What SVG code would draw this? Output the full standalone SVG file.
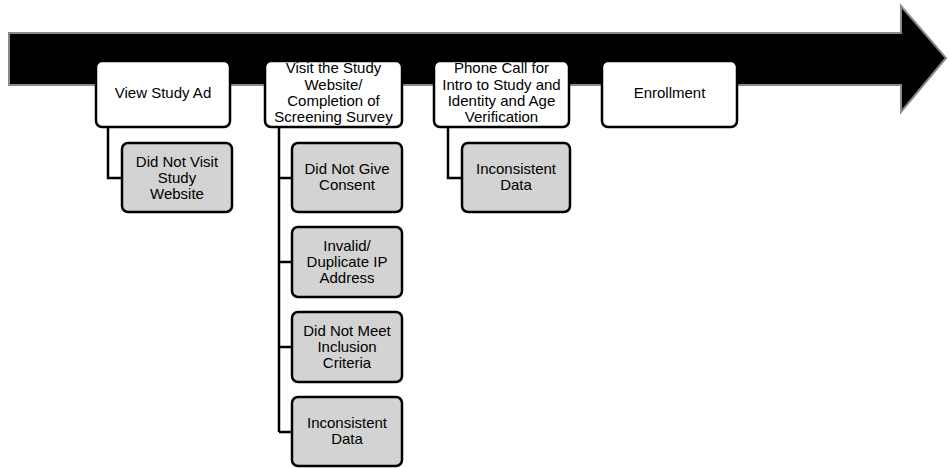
<svg xmlns="http://www.w3.org/2000/svg" width="949" height="468" viewBox="0 0 949 468">
<style>
.main{fill:#ffffff;stroke:#000;stroke-width:2.5}
.sub{fill:#d3d3d3;stroke:#000;stroke-width:2.5}
.t{font-family:"Liberation Sans",Arial,sans-serif;font-size:15px;fill:#000;text-anchor:middle}
.c{fill:none;stroke:#000;stroke-width:2.5}
</style>
<rect width="949" height="468" fill="#fff"/>
<g id="timeline-arrow">
<polygon points="9,33 901,33 901,6 946,58 901,112 901,85 9,85" fill="#000" stroke="#8a8a8a" stroke-width="2"/>
</g>
<g id="connectors">
<path class="c" d="M108,127 V178 H122"/>
<path class="c" d="M279,127 V432 M279,178 H292 M279,262 H292 M279,347 H292 M279,432 H292"/>
<path class="c" d="M448,127 V178 H462"/>
</g>
<g id="view-study-ad">
<rect class="main" x="96" y="61" width="134" height="66" rx="6"/>
<text class="t" x="163" y="98">View Study Ad</text>
</g>
<g id="visit-website">
<rect class="main" x="265" y="61" width="137" height="66" rx="6"/>
<text class="t" x="333.5" y="73">Visit the Study</text>
<text class="t" x="333.5" y="89.5">Website/</text>
<text class="t" x="333.5" y="105.5">Completion of</text>
<text class="t" x="333.5" y="122">Screening Survey</text>
</g>
<g id="phone-call">
<rect class="main" x="434" y="61" width="135" height="66" rx="6"/>
<text class="t" x="501.5" y="73">Phone Call for</text>
<text class="t" x="501.5" y="89.5">Intro to Study and</text>
<text class="t" x="501.5" y="105.5">Identity and Age</text>
<text class="t" x="501.5" y="122">Verification</text>
</g>
<g id="enrollment">
<rect class="main" x="602" y="61" width="135" height="66" rx="6"/>
<text class="t" x="669.5" y="98">Enrollment</text>
</g>
<g id="did-not-visit">
<rect class="sub" x="122" y="143" width="110" height="69" rx="6"/>
<text class="t" x="177" y="167">Did Not Visit</text>
<text class="t" x="177" y="183">Study</text>
<text class="t" x="177" y="199">Website</text>
</g>
<g id="no-consent">
<rect class="sub" x="292" y="143" width="110" height="69" rx="6"/>
<text class="t" x="347" y="174">Did Not Give</text>
<text class="t" x="347" y="190">Consent</text>
</g>
<g id="invalid-ip">
<rect class="sub" x="292" y="227" width="110" height="70" rx="6"/>
<text class="t" x="347" y="251">Invalid/</text>
<text class="t" x="347" y="267">Duplicate IP</text>
<text class="t" x="347" y="283">Address</text>
</g>
<g id="inclusion">
<rect class="sub" x="292" y="312" width="110" height="70" rx="6"/>
<text class="t" x="347" y="336">Did Not Meet</text>
<text class="t" x="347" y="352">Inclusion</text>
<text class="t" x="347" y="368">Criteria</text>
</g>
<g id="inconsistent-2">
<rect class="sub" x="292" y="397" width="110" height="69" rx="6"/>
<text class="t" x="347" y="428">Inconsistent</text>
<text class="t" x="347" y="444">Data</text>
</g>
<g id="inconsistent-3">
<rect class="sub" x="462" y="143" width="108" height="69" rx="6"/>
<text class="t" x="516" y="174">Inconsistent</text>
<text class="t" x="516" y="190">Data</text>
</g>
</svg>
